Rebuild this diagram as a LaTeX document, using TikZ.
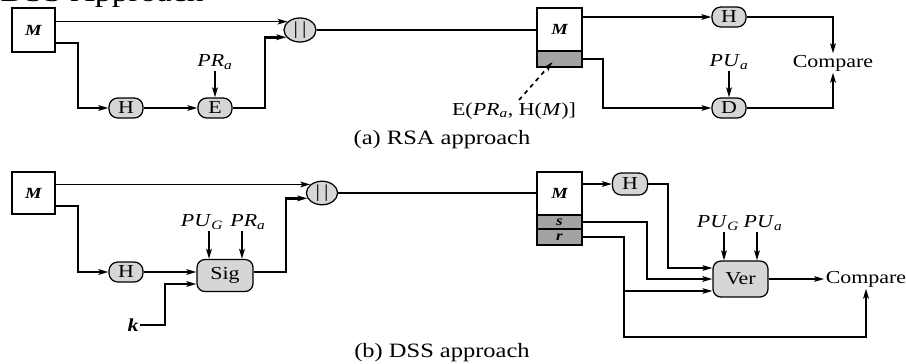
\documentclass[tikz,border=0pt]{standalone}
\usepackage{fontspec}
\setmainfont{Liberation Serif}[FakeStretch=1.2]
\usepackage{tikz}
\usetikzlibrary{arrows.meta, positioning, shapes.geometric, calc}
\definecolor{opgray}{RGB}{214,214,214}
\definecolor{siggray}{RGB}{163,163,163}
\newcommand{\vsub}[2]{\textit{#1}\textsubscript{\textit{#2}}}
\tikzset{
  msg/.style={draw, line width=0.9pt, fill=white, minimum width=1.1cm, minimum height=1.1cm,
              inner sep=0pt, font=\fontsize{11}{12}\selectfont\bfseries\itshape},
  sigpart/.style={draw, line width=0.9pt, fill=siggray, minimum width=1.125cm, inner sep=0pt,
                  font=\fontsize{10}{11}\selectfont\bfseries\itshape},
  fn/.style={draw, line width=0.9pt, fill=opgray, rounded corners=0.22cm, minimum width=0.85cm,
             minimum height=0.5cm, inner sep=0pt, font=\fontsize{13}{14}\selectfont},
  concat/.style={ellipse, draw, line width=0.9pt, fill=opgray, minimum width=0.8cm,
                 minimum height=0.6cm, inner sep=0pt, font=\fontsize{13}{14}\selectfont},
  algo/.style={draw, line width=0.9pt, fill=opgray, rounded corners=0.2cm, minimum width=1.4cm,
               minimum height=0.8cm, inner sep=0pt, font=\fontsize{13}{14}\selectfont},
  lbl/.style={inner sep=1pt, font=\fontsize{13}{14}\selectfont},
  caption/.style={inner sep=0pt, font=\fontsize{14.5}{16}\selectfont},
  wire/.style={line width=1.2pt},
  flow/.style={-{Stealth[length=7pt,width=4pt,inset=1.5pt]}, line width=1.2pt},
  flow-thick/.style={flow, line width=1.8pt},
  flow-thin/.style={flow, line width=0.9pt},
}
\begin{document}
\begin{tikzpicture}[x=0.025cm, y=-0.025cm]
\useasboundingbox (0,0) rectangle (906,363);

\node[anchor=base west, inner sep=0pt, font=\fontsize{20}{22}\selectfont] (title) at (0,1) {DSS Approach};

% (a) RSA approach
\node[msg, minimum width=1.075cm] (mA) at (33.5,30) {M};
\node[concat] (catA) at (300,30) {|\hspace{3pt}|};
\node[fn] (hA) at (126,108) {H};
\node[fn] (eA) at (215,108) {E};
\node[lbl] (prA) at (215,62) {\vsub{PR}{a}};
\node[msg, minimum width=1.125cm, minimum height=1.075cm] (mRA) at (559.5,29.5) {M};
\node[sigpart, minimum height=0.4cm] (sigA) at (559.5,59) {};
\node[fn] (hRA) at (729,17) {H};
\node[fn] (dA) at (729,108) {D};
\node[lbl] (puA) at (729,62) {\vsub{PU}{a}};
\node[lbl] (cmpA) at (833,63) {Compare};
\node[lbl] (sigLbl) at (514,111) {E(\vsub{PR}{a}, H(\textit{M})]};
\node[caption] (capA) at (442,140) {(a) RSA approach};

\draw[flow] (mA.east |- catA.146) -- (catA.146);
\draw[flow-thick] (mA.east |- 0,43) -- (78,43) |- (hA.west);
\draw[flow] (hA) -- (eA);
\draw[flow-thick] (prA) -- (eA);
\draw[flow-thick] (eA.east) -- (265,108) |- (catA.208);
\draw[wire] (catA.east) -- (catA.east -| mRA.west);
\draw[flow] (mRA.east |- hRA) -- (hRA);
\draw[flow-thin] (sigA.east) -- (603,59) |- (dA.west);
\draw[flow-thick] (puA) -- (dA);
\draw[flow-thick] (hRA.east) -| (cmpA.north);
\draw[flow-thick] (dA.east) -| (cmpA.south);
\draw[flow, dashed] ($(sigLbl.north)+(5,-1)$) -- ($(sigA.center)+(-7,3)$);

% (b) DSS approach
\node[msg, minimum width=1.075cm, minimum height=1.05cm] (mB) at (33.5,193) {M};
\node[concat, minimum width=0.78cm, minimum height=0.575cm] (catB) at (322,193) {|\hspace{3pt}|};
\node[fn] (hB) at (126,272) {H};
\node[algo] (sigB) at (225,275.5) {Sig};
\node[lbl] (pugB) at (202,222) {\vsub{PU}{G}};
\node[lbl] (prB) at (248,222) {\vsub{PR}{a}};
\node[lbl, font=\fontsize{13}{14}\selectfont\bfseries\itshape] (kB) at (133,325) {k};
\node[msg, minimum width=1.125cm, minimum height=1.075cm] (mRB) at (559.5,193.5) {M};
\node[sigpart, minimum height=0.35cm] (sB) at (559.5,222) {s};
\node[sigpart, minimum height=0.4cm] (rB) at (559.5,237) {r};
\node[fn, minimum width=0.875cm, minimum height=0.55cm] (hRB) at (630,184) {H};
\node[algo, minimum width=1.375cm, minimum height=0.9cm] (ver) at (740.5,279) {Ver};
\node[lbl] (pugV) at (718,223) {\vsub{PU}{G}};
\node[lbl] (puaV) at (763,223) {\vsub{PU}{a}};
\node[lbl] (cmpB) at (866,279) {Compare};
\node[caption] (capB) at (442,353) {(b) DSS approach};

\draw[flow] (mB.east |- catB.144) -- (catB.144);
\draw[flow-thick] (mB.east |- 0,206) -- (78,206) |- (hB.west);
\draw[flow] (hB.east) -- (hB.east -| sigB.west);
\draw[flow-thick] (kB.east) -- (165,325) |- (sigB.west |- 0,284);
\draw[flow-thick] (pugB.south -| 209,0) -- (209,0 |- sigB.north);
\draw[flow-thick] (prB.south -| 242,0) -- (242,0 |- sigB.north);
\draw[flow-thick] (sigB.east |- 0,272) -- (286,272) |- (catB.200);
\draw[wire] (catB.east) -- (catB.east -| mRB.west);
\draw[flow] (mRB.east |- hRB) -- (hRB);
\draw[flow] (hRB.east) -- (668,184) |- (ver.west |- 0,268);
\draw[flow-thick] (sB.east) -- (647,222) |- (ver.west);
\draw[flow-thick] (rB.east) -- (624,237) -- (624,337) -| (cmpB.south);
\draw[flow-thin] (624,291) -- (ver.west |- 0,291);
\draw[flow-thick] (pugV.south -| 724,0) -- (724,0 |- ver.north);
\draw[flow-thick] (puaV.south -| 757,0) -- (757,0 |- ver.north);
\draw[flow] (ver.east) -- (cmpB.west);
\end{tikzpicture}
\end{document}
